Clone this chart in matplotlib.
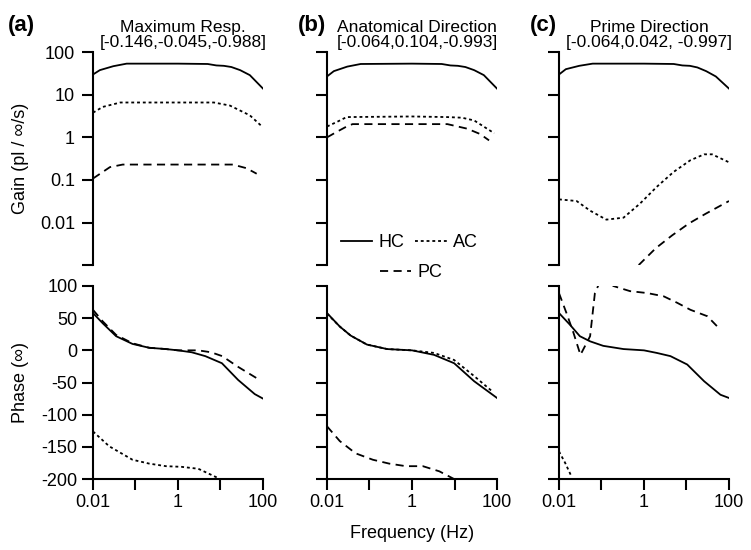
import numpy as np
import matplotlib
matplotlib.use("Agg")
import matplotlib.pyplot as plt
from matplotlib.lines import Line2D

plt.rcParams['font.family'] = ['Liberation Sans', 'DejaVu Sans']
plt.rcParams['font.size'] = 13
plt.rcParams['axes.unicode_minus'] = False

# ---- data ----
panel_tags = ["(a)", "(b)", "(c)"]
panel_names = ["Maximum Resp.", "Anatomical Direction", "Prime Direction"]
panel_vectors = ["[-0.146,-0.045,-0.988]", "[-0.064,0.104,-0.993]", "[-0.064,0.042, -0.997]"]

# gain (log scale)
hc_gain_f = [0.01, 0.0145, 0.03, 0.062, 1, 5, 8, 12, 18, 29, 49, 100]
hc_gain_a = [30, 38, 47, 54, 54, 53, 49, 48, 45, 38, 29, 14]
hc_gain_b = [27, 36, 46, 53, 54, 53, 49, 48, 45, 38, 29, 14]
hc_gain_c = [30, 40, 48, 54, 54, 53, 49, 48, 44, 36, 27, 14]

ac_gain_a_f = [0.01, 0.017, 0.044, 1, 7, 16.6, 49, 95]
ac_gain_a = [3.8, 5.2, 6.6, 6.6, 6.6, 5.6, 3.3, 1.8]
pc_gain_a_f = [0.01, 0.025, 0.05, 1, 19.5, 40, 59, 71]
pc_gain_a = [0.108, 0.2, 0.23, 0.23, 0.23, 0.19, 0.155, 0.14]

ac_gain_b_f = [0.01, 0.017, 0.029, 1, 6.8, 15, 29, 86]
ac_gain_b = [1.8, 2.3, 3.0, 3.1, 3.0, 2.9, 2.5, 1.25]
pc_gain_b_f = [0.01, 0.017, 0.029, 0.04, 1, 6.8, 20, 40, 65]
pc_gain_b = [1.0, 1.35, 1.8, 2.05, 2.05, 2.05, 1.6, 1.2, 0.85]

ac_gain_c_f = [0.01, 0.026, 0.054, 0.13, 0.33, 0.81, 2.0, 5.0, 12.3, 26, 40, 100]
ac_gain_c = [0.035, 0.032, 0.019, 0.0117, 0.013, 0.028, 0.069, 0.155, 0.29, 0.40, 0.40, 0.26]
pc_gain_c_f = [0.75, 1.9, 4.6, 11.4, 28, 100]
pc_gain_c = [0.0010, 0.0025, 0.005, 0.0095, 0.016, 0.032]

# phase (degrees)
hc_ph_a_f = [0.01, 0.017, 0.035, 0.085, 0.21, 0.52, 1, 2.1, 4.4, 10.8, 26, 64, 100]
hc_ph_a = [58, 42, 22, 10, 4, 2, 0, -3, -9, -20, -46, -68, -75]
pc_ph_a_f = [0.01, 0.017, 0.035, 0.085, 0.21, 0.52, 1, 3, 6, 11, 25, 70]
pc_ph_a = [63, 45, 24, 11, 4, 2, 0, 0, -3, -9, -25, -43]
ac_ph_a_f = [0.01, 0.024, 0.085, 0.21, 0.52, 1.2, 3, 8.5]
ac_ph_a = [-126, -149, -170, -176, -180, -181, -184, -198]

hc_ph_b_f = [0.01, 0.02, 0.036, 0.087, 0.26, 1, 3.3, 9.8, 29, 100]
hc_ph_b = [58, 37, 23, 9, 2, 0, -7, -20, -48, -74]
ac_ph_b_f = [0.01, 0.02, 0.036, 0.087, 0.26, 1, 3.3, 9.8, 29, 78]
ac_ph_b = [57, 37, 23, 9, 2, 0, -4, -15, -40, -64]
pc_ph_b_f = [0.01, 0.02, 0.047, 0.12, 0.29, 0.72, 1.8, 4.4, 9.8]
pc_ph_b = [-118, -141, -160, -170, -176, -180, -180, -188, -200]

hc_ph_c_f = [0.01, 0.018, 0.031, 0.054, 0.11, 0.33, 1, 2.0, 4.2, 10.4, 26, 63, 100]
hc_ph_c = [58, 40, 22, 14, 7, 2, 0, -4, -9, -22, -48, -69, -74]
pc_ph_c_f = [0.01, 0.015, 0.022, 0.032, 0.054, 0.07, 0.11, 0.19, 0.47, 1.2, 2.9, 6, 12.4, 31, 63]
pc_ph_c = [89, 58, 27, -7, 22, 89, 118, 100, 92, 89, 84, 74, 63, 53, 32]
ac_ph_c_f = [0.01, 0.014, 0.02]
ac_ph_c = [-157, -175, -197]

gain_sets = [
    [(hc_gain_f, hc_gain_a), (ac_gain_a_f, ac_gain_a), (pc_gain_a_f, pc_gain_a)],
    [(hc_gain_f, hc_gain_b), (ac_gain_b_f, ac_gain_b), (pc_gain_b_f, pc_gain_b)],
    [(hc_gain_f, hc_gain_c), (ac_gain_c_f, ac_gain_c), (pc_gain_c_f, pc_gain_c)],
]
phase_sets = [
    [(hc_ph_a_f, hc_ph_a), (ac_ph_a_f, ac_ph_a), (pc_ph_a_f, pc_ph_a)],
    [(hc_ph_b_f, hc_ph_b), (ac_ph_b_f, ac_ph_b), (pc_ph_b_f, pc_ph_b)],
    [(hc_ph_c_f, hc_ph_c), (ac_ph_c_f, ac_ph_c), (pc_ph_c_f, pc_ph_c)],
]

styles = [dict(ls='-'), dict(ls=(0, (1.6, 1.6))), dict(ls=(0, (4.5, 3)))]
lw = 1.3

fig = plt.figure(figsize=(7.51, 5.5), dpi=100)
lefts = [0.1238, 0.4354, 0.7443]
width = 0.2264

for i in range(3):
    axg = fig.add_axes([lefts[i], 0.518, width, 0.387])
    axp = fig.add_axes([lefts[i], 0.129, width, 0.351])

    for (f, v), st in zip(gain_sets[i], styles):
        axg.plot(f, v, color='black', lw=lw, **st)
    for (f, v), st in zip(phase_sets[i], styles):
        axp.plot(f, v, color='black', lw=lw, **st)

    # gain axis
    axg.set_xscale('log')
    axg.set_yscale('log')
    axg.set_xlim(0.01, 100)
    axg.set_ylim(0.001, 100)
    axg.set_yticks([0.001, 0.01, 0.1, 1, 10, 100])
    axg.minorticks_off()
    for s in ['top', 'right', 'bottom']:
        axg.spines[s].set_visible(False)
    axg.spines['left'].set_linewidth(1.5)
    axg.tick_params(axis='x', bottom=False, labelbottom=False)
    axg.tick_params(axis='y', length=8, width=1.5, pad=5)
    if i == 0:
        axg.set_yticklabels(['', '0.01', '0.1', '1', '10', '100'])
        axg.set_ylabel('Gain (pl / ∞/s)', labelpad=8)
    else:
        axg.set_yticklabels([])

    axg.set_title(panel_names[i] + '\n' + panel_vectors[i], fontsize=12.5,
                  linespacing=0.95, pad=4, x=0.53)
    axg.text(-0.50 if i == 0 else -0.17, 1.125, panel_tags[i], transform=axg.transAxes,
             fontsize=16, fontweight='bold', va='center', ha='left')

    # phase axis
    axp.set_xscale('log')
    axp.set_xlim(0.01, 100)
    axp.set_ylim(-200, 100)
    axp.set_xticks([0.01, 0.1, 1, 10, 100])
    axp.set_xticklabels(['0.01', '', '1', '', '100'])
    axp.minorticks_off()
    axp.set_yticks([-200, -150, -100, -50, 0, 50, 100])
    for s in ['top', 'right']:
        axp.spines[s].set_visible(False)
    axp.spines['left'].set_linewidth(1.5)
    axp.spines['bottom'].set_linewidth(1.5)
    axp.tick_params(axis='both', length=8, width=1.5, pad=3)
    if i == 0:
        axp.set_ylabel('Phase (∞)', labelpad=9)
    else:
        axp.set_yticklabels([])
    if i == 1:
        axp.set_xlabel('Frequency (Hz)', labelpad=10)

    if i == 1:
        h_hc = Line2D([], [], color='black', lw=lw, **styles[0])
        h_ac = Line2D([], [], color='black', lw=lw, **styles[1])
        h_pc = Line2D([], [], color='black', lw=lw, **styles[2])
        leg1 = axg.legend([h_hc, h_ac], ['HC', 'AC'], ncol=2, frameon=False,
                          loc='center left', bbox_to_anchor=(0.08, 0.105),
                          handlelength=1.75, handletextpad=0.35, columnspacing=0.6,
                          borderaxespad=0, borderpad=0)
        axg.add_artist(leg1)
        axg.legend([h_pc], ['PC'], frameon=False, loc='center left',
                   bbox_to_anchor=(0.31, -0.035), handlelength=1.75,
                   handletextpad=0.35, borderaxespad=0, borderpad=0)

fig.savefig('out.png', dpi=100)
